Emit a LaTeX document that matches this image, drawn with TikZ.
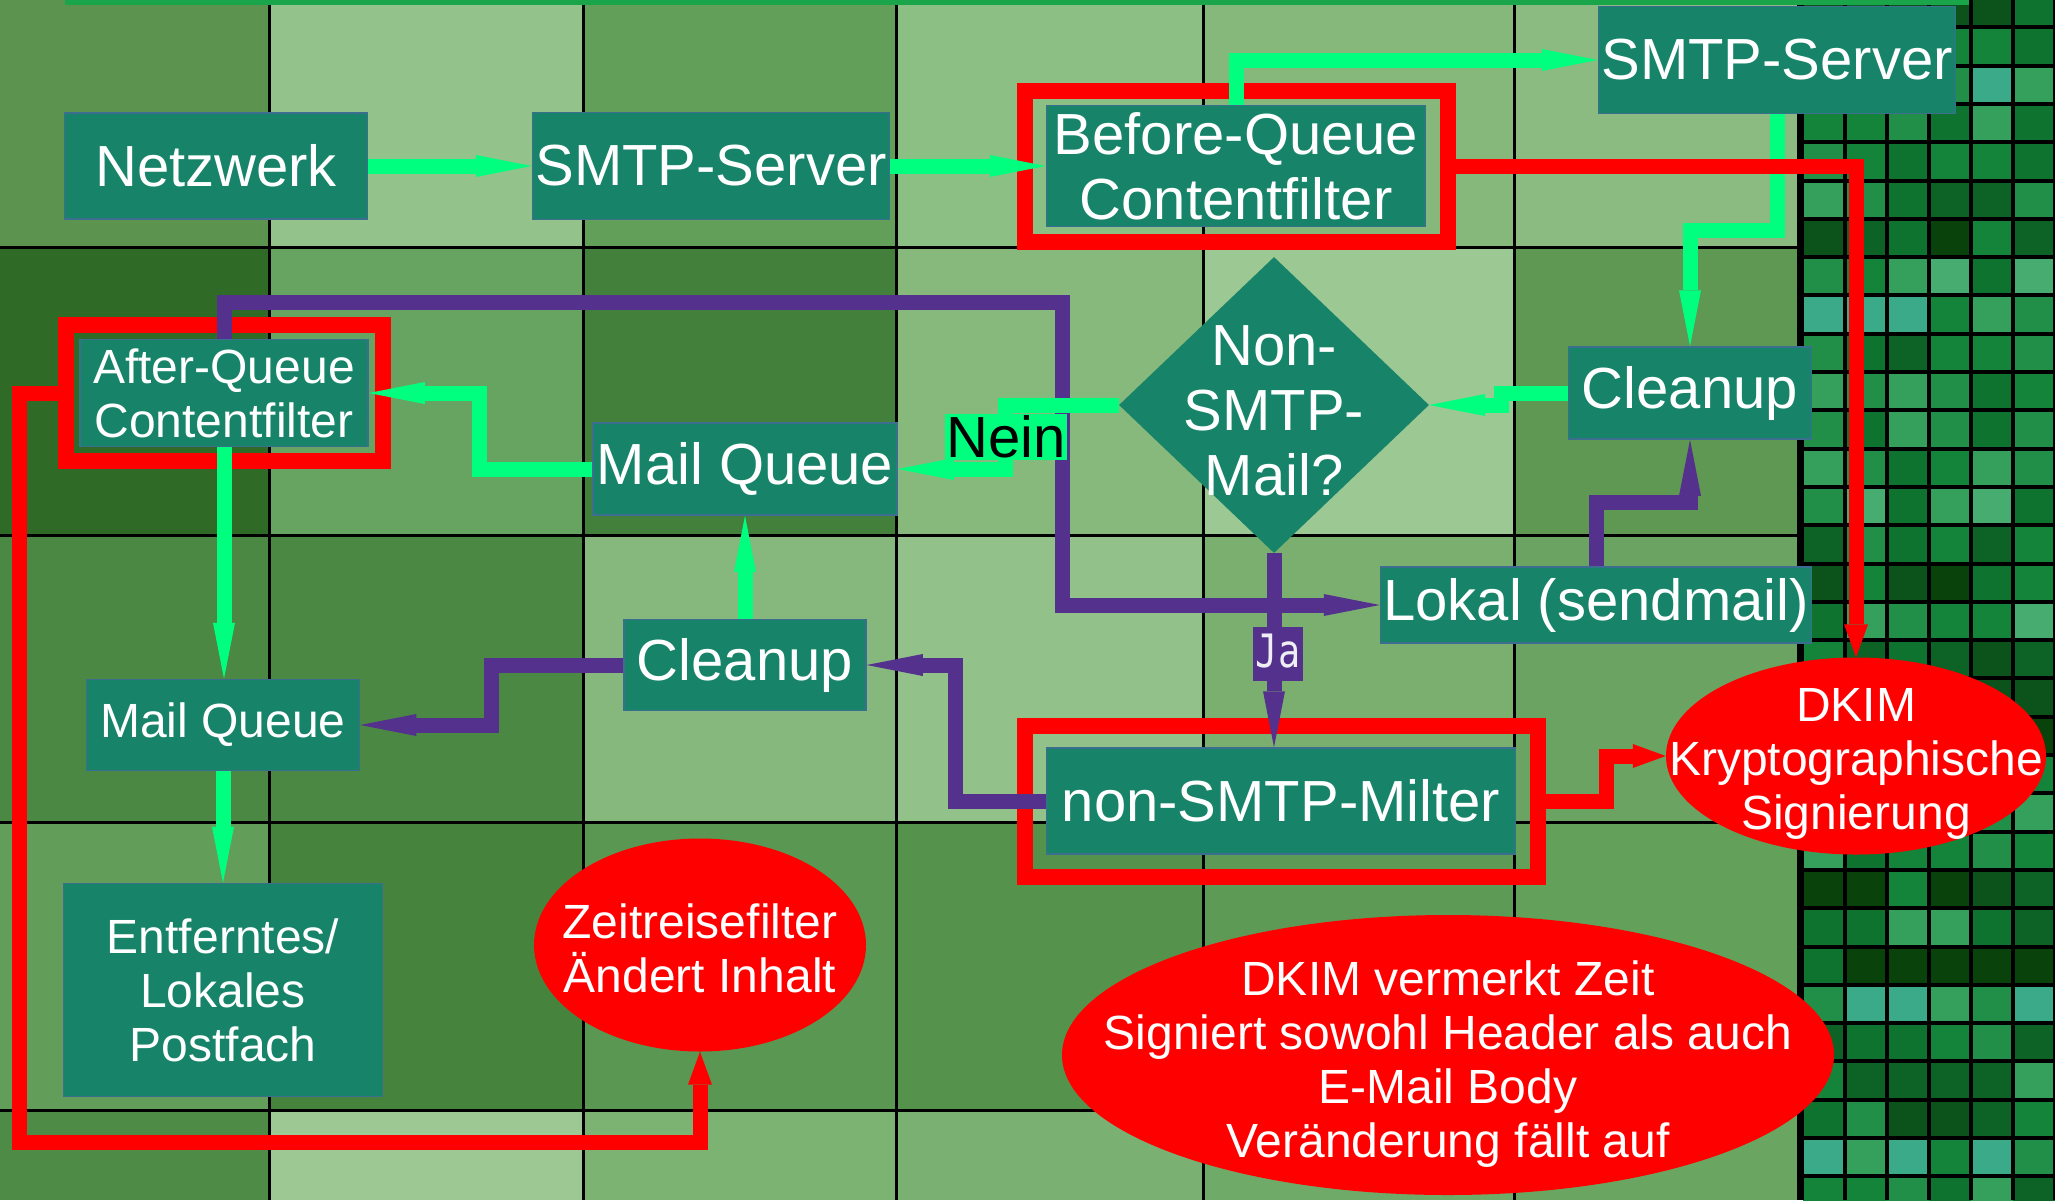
\documentclass[tikz,border=0pt]{standalone}
\usepackage{fontspec}
\setmainfont{Liberation Sans}
\newfontfamily\jamono{DejaVu Sans Mono}
\usetikzlibrary{arrows.meta,shapes.geometric}

\definecolor{kasten}{HTML}{17846A}
\definecolor{kantenblau}{HTML}{3B6E8F}
\definecolor{lila}{HTML}{55318E}
\definecolor{fluss}{HTML}{00FF7F}
\definecolor{oben}{HTML}{1AA54A}
\definecolor{jaweiss}{HTML}{EEEEF4}
% Mosaik rechts, dunkel nach hell
\definecolor{m0}{HTML}{0A420C}
\definecolor{m1}{HTML}{0B531A}
\definecolor{m2}{HTML}{0D6225}
\definecolor{m3}{HTML}{0F7330}
\definecolor{m4}{HTML}{14843A}
\definecolor{m5}{HTML}{228F48}
\definecolor{m6}{HTML}{35A05C}
\definecolor{m7}{HTML}{47AC70}
\definecolor{m8}{HTML}{3AAA88}
\definecolor{m9}{HTML}{62BEA0}

\newcommand\grosstext{\fontsize{58}{65}\selectfont}
\newcommand\mitteltext{\fontsize{48}{54}\selectfont}

\begin{document}
\begin{tikzpicture}[x=1pt,y=-1pt,>={Triangle[length=56pt,width=22pt,line width'=0pt]}]
  \tikzstyle{box}=[rectangle,fill=kasten,draw=kantenblau,line width=1.5pt,text=white,align=center,inner sep=0pt,font=\grosstext]
  \tikzstyle{rahmen}=[rectangle,draw=red,line width=16pt,inner sep=0pt]
  \tikzstyle{raute}=[diamond,fill=kasten,inner sep=0pt]
  \tikzstyle{blase}=[ellipse,fill=red,inner sep=0pt]
  \tikzstyle{inschrift}=[text=white,align=center,inner sep=0pt,font=\mitteltext]
  \tikzstyle{gruen}=[draw=fluss,line width=15pt,->]
  \tikzstyle{lilapfeil}=[draw=lila,line width=15pt,->]
  \tikzstyle{rot}=[draw=red,line width=15pt,-{Triangle[length=33pt,width=24pt,line width'=0pt]}]
  \tikzstyle{nein}=[fill=fluss,text=black,font=\grosstext,inner sep=1.5pt]
  \tikzstyle{ja}=[fill=lila,text=jaweiss,font=\jamono\fontsize{46}{50}\selectfont,
                  inner xsep=3pt,inner ysep=6pt,text height=34pt,text depth=8pt]

  \useasboundingbox (0,0) rectangle (2055,1200);

  % Hintergrundraster
  \def\spalten{{0,269,583,896,1203,1514,1800}}
  \foreach \ya/\yb/\farben in {0/247/{5B934F,93C28B,62A05A,8CBF84,86B87C,8BBB81},
      247/535/{2F6B27,68A461,43803B,87B97D,9CC893,5E9853},
      535/822/{4B8843,4A8843,86B77C,93C18A,7AAF70,6AA362},
      822/1110/{629E5A,46843E,5A9752,55924C,5D9A55,63A05A},
      1110/1200/{4E8B46,9DC894,7CB272,7AB071,70AA68,6AA661}}{
    \foreach \hex [count=\j from 0] in \farben {
      \pgfmathsetmacro\xa{\spalten[\j]}
      \pgfmathsetmacro\xb{\spalten[\j+1]}
      \definecolor{zelle}{HTML}{\hex}
      \fill[zelle] (\xa,\ya) rectangle (\xb,\yb);
    }
  }
  \foreach \x in {269,583,896,1203,1514}
    \draw[black,line width=3pt] (\x,0) -- (\x,1200);
  \foreach \y in {247,535,822,1110}
    \draw[black,line width=3pt] (0,\y) -- (1800,\y);

  % Mosaik
  \pgfmathsetseed{4711}
  \foreach \r in {0,...,31}{
    \pgfmathrandominteger{\basis}{0}{4}
    \foreach \s in {0,...,5}{
      \pgfmathrandominteger{\d}{0}{4}
      \pgfmathtruncatemacro\k{\basis+\d}
      \fill[m\k] (1803+42*\s,-11+38.3*\r) rectangle ++(42,38.3);
    }
  }
  \foreach \s in {1,...,6}
    \draw[black,line width=4pt] (1803+42*\s,0) -- ++(0,1200);
  \foreach \r in {0,...,32}
    \draw[black,line width=4pt] (1800,-11+38.3*\r) -- ++(255,0);
  \draw[black,line width=7pt] (1800,0) -- (1800,1200);
  \draw[oben,line width=5pt] (65,2) -- (1969,2);

  % Knoten
  \node[box,minimum width=303,minimum height=106] (netz) at (216,166) {Netzwerk};
  \node[box,minimum width=357,minimum height=107] (smtpa) at (711,166) {SMTP-Server};
  \node[rahmen,minimum width=423,minimum height=151] (vorqrahmen) at (1236,166) {};
  \node[box,minimum width=379,minimum height=121] (vorq) at (1236,166) {Before-Queue\\Contentfilter};
  \node[box,minimum width=357,minimum height=107] (smtpb) at (1777,60) {SMTP-Server};
  \node[box,minimum width=243,minimum height=92] (cleanr) at (1690,393) {Cleanup};
  \node[raute,minimum width=310,minimum height=296,
        label={[inschrift,font=\grosstext,yshift=-6pt]center:Non-\\SMTP-\\Mail?}] (frage) at (1274,405) {};
  \node[box,minimum width=431,minimum height=76] (lokal) at (1596,605) {Lokal (sendmail)};
  \node[box,minimum width=304,minimum height=92] (queuem) at (745,469) {Mail Queue};
  \node[rahmen,minimum width=317,minimum height=136] (nachqrahmen) at (224,393) {};
  \node[box,font=\mitteltext,minimum width=288,minimum height=107] (nachq) at (224,393) {After-Queue\\Contentfilter};
  \node[box,minimum width=242,minimum height=91] (cleanm) at (745,665) {Cleanup};
  \node[box,font=\mitteltext,minimum width=273,minimum height=91] (queuel) at (223,725) {Mail Queue};
  \node[box,font=\mitteltext,minimum width=319,minimum height=213] (postfach) at (223,990) {Entferntes/\\Lokales\\Postfach};
  \node[blase,minimum width=332,minimum height=213,
        label={[inschrift,yshift=-3pt]center:Zeitreisefilter\\Ändert Inhalt}] (zeitreise) at (700,945) {};
  \node[rahmen,minimum width=513,minimum height=151] (milterrahmen) at (1281,801) {};
  \node[box,minimum width=469,minimum height=106] (milter) at (1281,801) {non-SMTP-Milter};
  \node[blase,minimum width=380,minimum height=197,
        label={[inschrift,yshift=-8pt]center:DKIM\\Kryptographische\\Signierung}] (dkim) at (1856,756) {};
  \node[blase,minimum width=772,minimum height=280,
        label={[inschrift,yshift=-9pt]center:DKIM vermerkt Zeit\\Signiert sowohl Header als auch\\E-Mail Body\\Veränderung fällt auf}] (dkimzeit) at (1448,1055) {};

  % lange Schleife unter den gruenen Pfeilen
  \draw[lilapfeil] (nachq.north) |- (1062,302) |- (lokal.west);

  % SMTP-Weg
  \draw[gruen] (netz) -- (smtpa);
  \draw[gruen] (smtpa) -- (vorq);
  \draw[gruen] (vorq.north) |- (smtpb);
  \draw[gruen] (smtpb.south) -- ++(0,116) -| (cleanr.north);
  \draw[gruen] (cleanr.west) -- ++(-66,0) |- (frage.east);
  \draw[gruen] (frage.west) -- ++(-113,0) |- node[pos=0.25,nein] {Nein} (queuem.east);
  \draw[gruen] (queuem.west) -- ++(-113,0) |- (nachq.east);
  \draw[gruen] (cleanm) -- (queuem);
  \draw[gruen] (nachq.south) -- (nachq.south |- queuel.north);
  \draw[gruen] (queuel) -- (postfach);

  % lokaler Weg
  \draw[lilapfeil] (lokal.north) -- ++(0,-64) -| (cleanr.south);
  \draw[lilapfeil] (frage.south) -- (frage.south |- milter.north)
    node[pos=0.5,ja,xshift=4pt,yshift=-4pt] {\scalebox{0.8}[1]{Ja}};
  \draw[lilapfeil] (milter.west) -- ++(-90,0) |- (cleanm.east);
  \draw[lilapfeil] (cleanm.west) -- ++(-132,0) |- (queuel.east);

  % Signatur
  \draw[rot] (vorqrahmen.east) -| (dkim.north);
  \draw[rot] (milterrahmen.east) -- ++(61,0) |- (dkim.west);
  \draw[rot] (nachqrahmen.west) -| (19,1142) -| (zeitreise.south);
\end{tikzpicture}
\end{document}
